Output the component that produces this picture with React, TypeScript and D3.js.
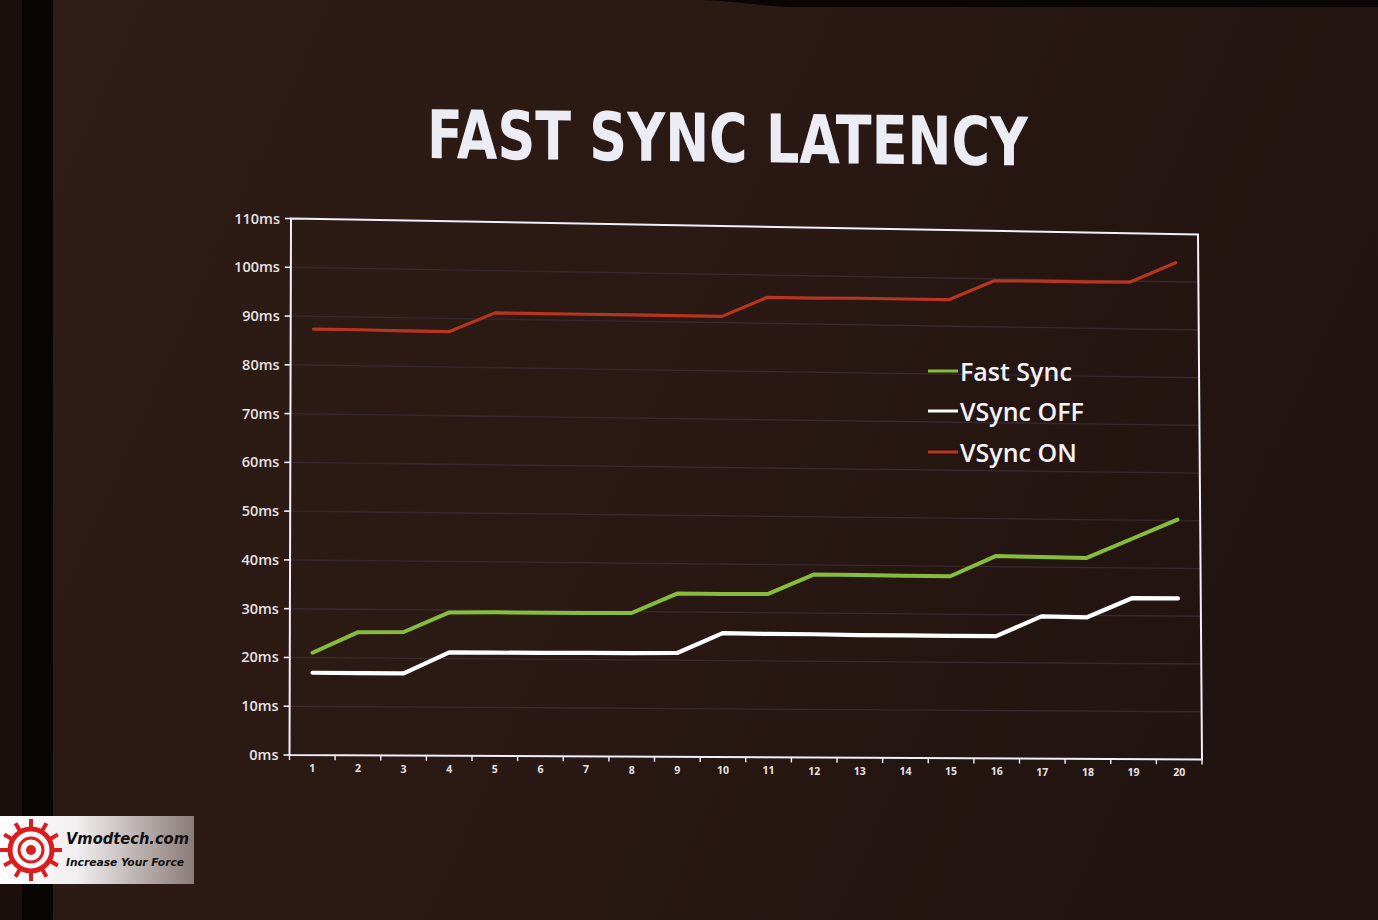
import React from 'react';
import * as d3 from 'd3';

// ---------- data ----------
const categories = ['1', '2', '3', '4', '5', '6', '7', '8', '9', '10', '11', '12', '13', '14', '15', '16', '17', '18', '19', '20'];
const fastSync = [21.0, 25.3, 25.4, 29.5, 29.6, 29.6, 29.6, 29.7, 33.8, 33.8, 33.9, 38.0, 38.0, 37.9, 37.9, 42.2, 42.1, 42.0, 46.1, 50.2];
const vsyncOff = [16.9, 16.9, 16.9, 21.3, 21.3, 21.3, 21.4, 21.4, 21.5, 25.7, 25.6, 25.6, 25.5, 25.5, 25.5, 25.5, 29.7, 29.6, 33.7, 33.7];
const vsyncOn = [87.4, 87.4, 87.3, 87.3, 91.3, 91.3, 91.3, 91.3, 91.3, 91.3, 95.4, 95.4, 95.5, 95.5, 95.5, 99.6, 99.7, 99.7, 99.8, 104.0];
const yTicks = [0, 10, 20, 30, 40, 50, 60, 70, 80, 90, 100, 110];
const yTickLabels = ['0ms', '10ms', '20ms', '30ms', '40ms', '50ms', '60ms', '70ms', '80ms', '90ms', '100ms', '110ms'];
const seriesNames = ['Fast Sync', 'VSync OFF', 'VSync ON'];
const titleText = 'FAST SYNC LATENCY';

// ---------- layout ----------
const W = 1378;
const H = 920;
// corners of the (photographed, slightly keystoned) plot frame
const TL: [number, number] = [291, 218.5];
const TR: [number, number] = [1198, 234.5];
const BL: [number, number] = [289.5, 755];
const BR: [number, number] = [1202, 759.5];

function project(u: number, v: number): [number, number] {
  const tx = TL[0] + (TR[0] - TL[0]) * u;
  const ty = TL[1] + (TR[1] - TL[1]) * u;
  const bx = BL[0] + (BR[0] - BL[0]) * u;
  const by = BL[1] + (BR[1] - BL[1]) * u;
  return [tx + (bx - tx) * v, ty + (by - ty) * v];
}

const xBand = d3.scaleBand<string>().domain(categories).range([0, 1]).padding(0);
const yScale = d3.scaleLinear().domain([0, 110]).range([1, 0]);
const xc = (i: number) => (xBand(categories[i]) as number) + xBand.bandwidth() / 2;

const lineGen = d3
  .line<number>()
  .x((d, i) => project(xc(i), yScale(d))[0])
  .y((d, i) => project(xc(i), yScale(d))[1])
  .curve(d3.curveLinear);

const series = [
  { name: seriesNames[0], values: fastSync, color: '#86bd3c', width: 4 },
  { name: seriesNames[1], values: vsyncOff, color: '#ffffff', width: 4.2 },
  { name: seriesNames[2], values: vsyncOn, color: '#b8351f', width: 3.2 },
];

const legendRows = [
  { y: 371, color: '#86bd3c' },
  { y: 411, color: '#ffffff' },
  { y: 452, color: '#b8351f' },
];

export default function App() {
  const frame = [project(0, 0), project(1, 0), project(1, 1), project(0, 1)];
  const framePath = 'M' + frame.map((p) => p.join(',')).join('L') + 'Z';
  const spokes = d3.range(0, 360, 30);

  return (
    <svg
      width={W}
      height={H}
      viewBox={`0 0 ${W} ${H}`}
      style={{ position: 'fixed', left: 0, top: 0, display: 'block' }}
    >
      <defs>
        <linearGradient id="bg" x1="0" y1="0" x2="1" y2="0.3">
          <stop offset="0" stopColor="#2f1c16" />
          <stop offset="0.5" stopColor="#2b1914" />
          <stop offset="1" stopColor="#221411" />
        </linearGradient>
        <linearGradient id="wm" x1="0" y1="0" x2="1" y2="0">
          <stop offset="0" stopColor="#ffffff" />
          <stop offset="0.4" stopColor="#f0eeee" />
          <stop offset="1" stopColor="#8a7c78" />
        </linearGradient>
      </defs>

      {/* background */}
      <rect x={0} y={0} width={W} height={H} fill="url(#bg)" />
      <rect x={0} y={0} width={22} height={H} fill="#1a0f0c" />
      <rect x={22} y={0} width={31} height={H} fill="#080505" />
      <path d="M690,0 C740,0 760,7 800,7 L1378,7 L1378,0 Z" fill="#0a0606" />

      {/* title (slight keystone tilt) */}
      <g transform="translate(427,0) skewY(0.72) translate(-427,0)">
        <text
          x={427}
          y={158}
          fontSize={67}
          fontFamily="'DejaVu Sans', sans-serif"
          fontWeight={700}
          fill="#ececf4"
          textLength={601}
          lengthAdjust="spacingAndGlyphs"
        >
          {titleText}
        </text>
      </g>

      {/* gridlines */}
      {yTicks
        .filter((t) => t > 0 && t < 110)
        .map((t) => {
          const a = project(0, yScale(t));
          const b = project(1, yScale(t));
          return <line key={'g' + t} x1={a[0]} y1={a[1]} x2={b[0]} y2={b[1]} stroke="#38292e" strokeWidth={1.4} />;
        })}

      {/* frame */}
      <path d={framePath} fill="none" stroke="#f2f0ff" strokeWidth={2} />

      {/* y ticks + labels */}
      {yTicks.map((t, i) => {
        const p = project(0, yScale(t));
        return (
          <g key={'y' + t}>
            <line x1={p[0] - 6} y1={p[1]} x2={p[0]} y2={p[1]} stroke="#f2f0ff" strokeWidth={1.6} />
            <text
              x={p[0] - 11}
              y={p[1] + 5}
              textAnchor="end"
              fontSize={14.5}
              fontFamily="'Open Sans', sans-serif"
              fontWeight={600}
              fill="#e6e2e4"
            >
              {yTickLabels[i]}
            </text>
          </g>
        );
      })}

      {/* x ticks (between categories) */}
      {d3.range(0, categories.length + 1).map((k) => {
        const u = k / categories.length;
        const p = project(u, 1);
        return <line key={'xt' + k} x1={p[0]} y1={p[1]} x2={p[0]} y2={p[1] + 5} stroke="#f2f0ff" strokeWidth={1.4} />;
      })}
      {categories.map((c, i) => {
        const p = project(xc(i), 1);
        return (
          <text
            key={'xl' + c}
            x={p[0]}
            y={p[1] + 17}
            textAnchor="middle"
            fontSize={10.5}
            fontFamily="'Open Sans', sans-serif"
            fontWeight={700}
            fill="#e6e2e4"
          >
            {c}
          </text>
        );
      })}

      {/* series */}
      {series.map((s) => (
        <path
          key={s.name}
          d={lineGen(s.values) || ''}
          fill="none"
          stroke={s.color}
          strokeWidth={s.width}
          strokeLinejoin="round"
          strokeLinecap="round"
        />
      ))}

      {/* legend */}
      {series.map((s, i) => (
        <g key={'lg' + s.name}>
          <line x1={928} y1={legendRows[i].y} x2={958} y2={legendRows[i].y} stroke={legendRows[i].color} strokeWidth={3} />
          <text
            x={960}
            y={legendRows[i].y + 10}
            fontSize={25}
            fontFamily="'Open Sans', sans-serif"
            fontWeight={600}
            fill="#f4f2f8"
          >
            {s.name}
          </text>
        </g>
      ))}

      {/* watermark */}
      <g>
        <rect x={0} y={816} width={194} height={68} fill="url(#wm)" />
        <g transform="translate(31,850)">
          <circle r={21} fill="none" stroke="#d81e1e" strokeWidth={5} />
          <circle r={12} fill="none" stroke="#d81e1e" strokeWidth={3} />
          <circle r={5} fill="#d81e1e" />
          {spokes.map((a) => {
            const r = (a * Math.PI) / 180;
            return (
              <line
                key={'sp' + a}
                x1={Math.cos(r) * 22}
                y1={Math.sin(r) * 22}
                x2={Math.cos(r) * 31}
                y2={Math.sin(r) * 31}
                stroke="#d81e1e"
                strokeWidth={4}
              />
            );
          })}
        </g>
        <text x={66} y={844} fontSize={16} fontStyle="italic" fontWeight={700} fontFamily="'DejaVu Sans', sans-serif" fill="#111" textLength={123} lengthAdjust="spacingAndGlyphs">
          Vmodtech.com
        </text>
        <text x={66} y={866} fontSize={11} fontStyle="italic" fontWeight={700} fontFamily="'DejaVu Sans', sans-serif" fill="#111" textLength={118} lengthAdjust="spacingAndGlyphs">
          Increase Your Force
        </text>
      </g>
    </svg>
  );
}
